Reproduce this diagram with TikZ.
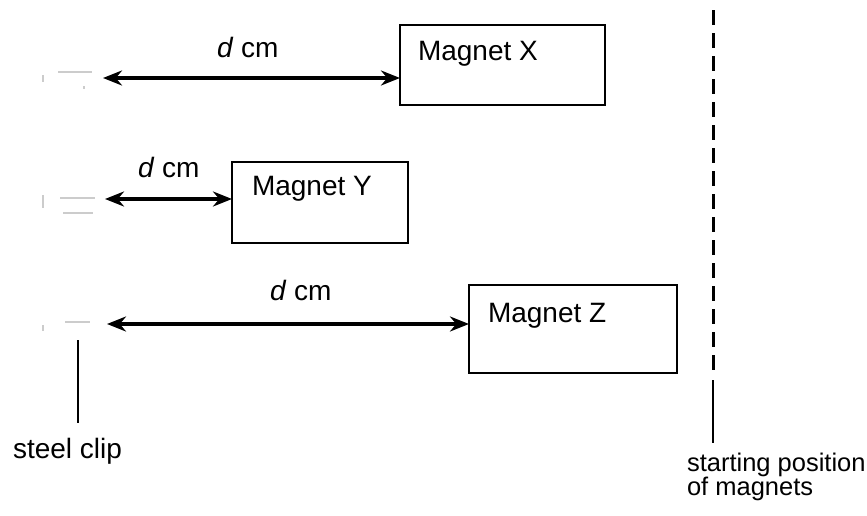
\documentclass[tikz,border=0pt]{standalone}
\usepackage{fontspec}
\setmainfont{Liberation Sans}
\usetikzlibrary{arrows.meta,calc}
\begin{document}
\begin{tikzpicture}[x=1pt,y=-1pt,
  every node/.style={inner sep=0pt, outer sep=0pt},
  txt/.style={font=\fontsize{28}{30}\selectfont, anchor=base west},
  magbox/.style={draw, line width=2.4pt, anchor=north west},
  dist/.style={arrows={Stealth[length=19pt,width=15pt]-Stealth[length=19pt,width=15pt]}, line width=3.4pt},
  faint/.style={gray!40, line width=1.3pt},
  solidline/.style={line width=2.8pt},
  startline/.style={line width=3pt, dash pattern=on 15pt off 8pt}]
\useasboundingbox (0,0) rectangle (867,515);

% boxes
\node[magbox, minimum width=205pt, minimum height=80pt] (mx) at (400,25) {};
\node[magbox, minimum width=176pt, minimum height=81pt] (my) at (232,162) {};
\node[magbox, minimum width=208pt, minimum height=88pt] (mz) at (469,285) {};

\node[txt] (tx) at (418,60) {Magnet X};
\node[txt] (ty) at (252,195) {Magnet Y};
\node[txt] (tz) at (488,322) {Magnet Z};

% distance arrows
\coordinate (ax) at (103,78);
\coordinate (ay) at (105,199);
\coordinate (az) at (107,324);
\draw[dist] (ax) -- (mx.west |- ax);
\draw[dist] (ay) -- (my.west |- ay);
\draw[dist] (az) -- (mz.west |- az);

\node[txt] (dx) at (217,57) {\textit{d} cm};
\node[txt] (dy) at (138,177) {\textit{d} cm};
\node[txt] (dz) at (270,300) {\textit{d} cm};

% faint steel clips
\draw[faint] (58,72) -- (92,72);
\draw[faint] (43,75) -- (43,82);
\draw[faint] (84,86) -- (84,89);
\draw[faint] (60,198) -- (95,198);
\draw[faint] (63,213) -- (93,213);
\draw[faint] (43,195) -- (43,208);
\draw[faint] (65,322) -- (90,322);
\draw[faint] (43,325) -- (43,331);

% steel clip label
\coordinate (clipTop) at (78,340);
\coordinate (clipBot) at (78,423);
\draw[solidline] (clipTop) -- (clipBot);
\node[txt] (sc) at (13,458) {steel clip};

% starting position
\coordinate (s1) at (713,10);
\coordinate (s2) at (713,372);
\coordinate (s3) at (713,380);
\coordinate (s4) at (713,443);
\draw[startline] (s1) -- (s2);
\draw[solidline] (s3) -- (s4);
\node[font=\fontsize{25.5}{24}\selectfont, anchor=base west, align=left] (sp) at (687,495) {starting position\\of magnets};
\end{tikzpicture}
\end{document}
